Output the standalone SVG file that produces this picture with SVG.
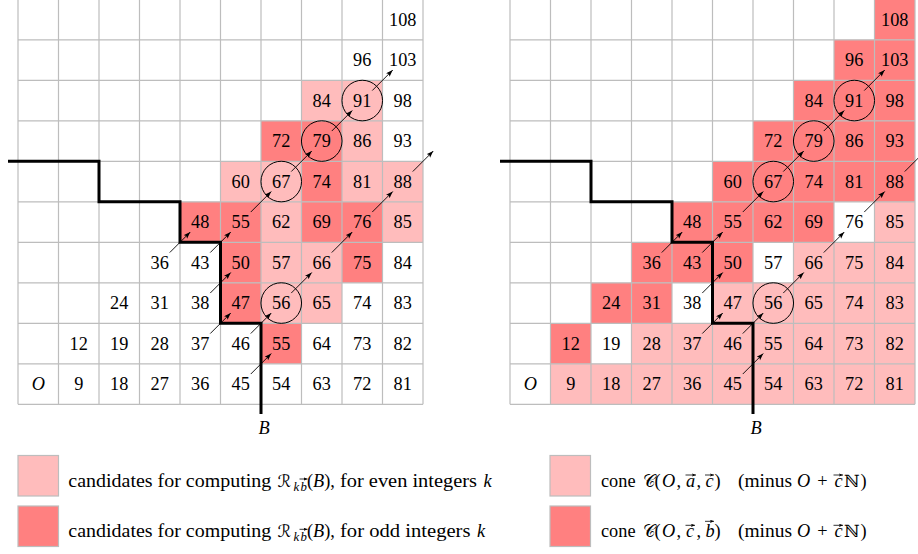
<svg xmlns="http://www.w3.org/2000/svg" width="918" height="554" viewBox="0 0 918 554">
<style>
text{font-family:'Liberation Serif',serif;font-size:18.3px;fill:#000}
.c text{text-anchor:middle}
.it{font-style:italic}
.sub{font-size:12.8px}
.scr{font-family:'DejaVu Serif','DejaVu Sans',serif;font-size:17px}
.l{fill:#ffbcbc}
.d{fill:#ff8080}
.sw{stroke:#bdbdbd;stroke-width:1.2}
.grid{fill:none;stroke:#bdbdbd;stroke-width:1.2}
.st{fill:none;stroke:#000;stroke-width:3;stroke-linejoin:miter;stroke-linecap:butt}
.ci{fill:none;stroke:#000;stroke-width:1}
.ar{stroke:#000;stroke-width:0.9;marker-end:url(#ah)}
.vec{stroke:#000;stroke-width:0.8;marker-end:url(#vh)}
</style>
<defs>
<marker id="ah" markerUnits="userSpaceOnUse" markerWidth="8" markerHeight="6" refX="7" refY="2.5" orient="auto"><path d="M0,0 L7,2.5 L0,5 L1.5,2.5 z" fill="#000"/></marker>
<marker id="vh" markerUnits="userSpaceOnUse" markerWidth="5" markerHeight="4" refX="4" refY="1.6" orient="auto"><path d="M0,0 L4,1.6 L0,3.2 L0.8,1.6 z" fill="#000"/></marker>
<path id="gridlines" d="M0,0V405M40.5,0V405M81,0V405M121.5,0V405M162,0V405M202.5,0V405M243,0V405M283.5,0V405M324,0V405M364.5,0V405M405,0V405M0,0H405M0,40.5H405M0,81H405M0,121.5H405M0,162H405M0,202.5H405M0,243H405M0,283.5H405M0,324H405M0,364.5H405M0,405H405"/>
<path id="stair" d="M-10,162H81V202.5H162V243H202.5V324H243V414.6"/>
</defs>

<!-- LEFT GRID -->
<g id="left-grid" transform="translate(18,-0.7)">
<g class="c">
<g id="L-c0r0" transform="translate(0,364.5)"><text class="it" x="20.25" y="26.25">O</text></g>
<g id="L-c1r0" transform="translate(40.5,364.5)"><text x="20.25" y="26.25">9</text></g>
<g id="L-c2r0" transform="translate(81,364.5)"><text x="20.25" y="26.25">18</text></g>
<g id="L-c3r0" transform="translate(121.5,364.5)"><text x="20.25" y="26.25">27</text></g>
<g id="L-c4r0" transform="translate(162,364.5)"><text x="20.25" y="26.25">36</text></g>
<g id="L-c5r0" transform="translate(202.5,364.5)"><text x="20.25" y="26.25">45</text></g>
<g id="L-c6r0" transform="translate(243,364.5)"><text x="20.25" y="26.25">54</text></g>
<g id="L-c7r0" transform="translate(283.5,364.5)"><text x="20.25" y="26.25">63</text></g>
<g id="L-c8r0" transform="translate(324,364.5)"><text x="20.25" y="26.25">72</text></g>
<g id="L-c9r0" transform="translate(364.5,364.5)"><text x="20.25" y="26.25">81</text></g>

<g id="L-c1r1" transform="translate(40.5,324)"><text x="20.25" y="26.25">12</text></g>
<g id="L-c2r1" transform="translate(81,324)"><text x="20.25" y="26.25">19</text></g>
<g id="L-c3r1" transform="translate(121.5,324)"><text x="20.25" y="26.25">28</text></g>
<g id="L-c4r1" transform="translate(162,324)"><text x="20.25" y="26.25">37</text></g>
<g id="L-c5r1" transform="translate(202.5,324)"><text x="20.25" y="26.25">46</text></g>
<g id="L-c6r1" transform="translate(243,324)"><rect class="d" width="40.5" height="40.5"/><text x="20.25" y="26.25">55</text></g>
<g id="L-c7r1" transform="translate(283.5,324)"><text x="20.25" y="26.25">64</text></g>
<g id="L-c8r1" transform="translate(324,324)"><text x="20.25" y="26.25">73</text></g>
<g id="L-c9r1" transform="translate(364.5,324)"><text x="20.25" y="26.25">82</text></g>

<g id="L-c2r2" transform="translate(81,283.5)"><text x="20.25" y="26.25">24</text></g>
<g id="L-c3r2" transform="translate(121.5,283.5)"><text x="20.25" y="26.25">31</text></g>
<g id="L-c4r2" transform="translate(162,283.5)"><text x="20.25" y="26.25">38</text></g>
<g id="L-c5r2" transform="translate(202.5,283.5)"><rect class="d" width="40.5" height="40.5"/><text x="20.25" y="26.25">47</text></g>
<g id="L-c6r2" transform="translate(243,283.5)"><rect class="l" width="40.5" height="40.5"/><text x="20.25" y="26.25">56</text></g>
<g id="L-c7r2" transform="translate(283.5,283.5)"><rect class="l" width="40.5" height="40.5"/><text x="20.25" y="26.25">65</text></g>
<g id="L-c8r2" transform="translate(324,283.5)"><text x="20.25" y="26.25">74</text></g>
<g id="L-c9r2" transform="translate(364.5,283.5)"><text x="20.25" y="26.25">83</text></g>

<g id="L-c3r3" transform="translate(121.5,243)"><text x="20.25" y="26.25">36</text></g>
<g id="L-c4r3" transform="translate(162,243)"><text x="20.25" y="26.25">43</text></g>
<g id="L-c5r3" transform="translate(202.5,243)"><rect class="d" width="40.5" height="40.5"/><text x="20.25" y="26.25">50</text></g>
<g id="L-c6r3" transform="translate(243,243)"><rect class="l" width="40.5" height="40.5"/><text x="20.25" y="26.25">57</text></g>
<g id="L-c7r3" transform="translate(283.5,243)"><rect class="l" width="40.5" height="40.5"/><text x="20.25" y="26.25">66</text></g>
<g id="L-c8r3" transform="translate(324,243)"><rect class="d" width="40.5" height="40.5"/><text x="20.25" y="26.25">75</text></g>
<g id="L-c9r3" transform="translate(364.5,243)"><text x="20.25" y="26.25">84</text></g>

<g id="L-c4r4" transform="translate(162,202.5)"><rect class="d" width="40.5" height="40.5"/><text x="20.25" y="26.25">48</text></g>
<g id="L-c5r4" transform="translate(202.5,202.5)"><rect class="d" width="40.5" height="40.5"/><text x="20.25" y="26.25">55</text></g>
<g id="L-c6r4" transform="translate(243,202.5)"><rect class="l" width="40.5" height="40.5"/><text x="20.25" y="26.25">62</text></g>
<g id="L-c7r4" transform="translate(283.5,202.5)"><rect class="d" width="40.5" height="40.5"/><text x="20.25" y="26.25">69</text></g>
<g id="L-c8r4" transform="translate(324,202.5)"><rect class="d" width="40.5" height="40.5"/><text x="20.25" y="26.25">76</text></g>
<g id="L-c9r4" transform="translate(364.5,202.5)"><rect class="l" width="40.5" height="40.5"/><text x="20.25" y="26.25">85</text></g>

<g id="L-c5r5" transform="translate(202.5,162)"><rect class="l" width="40.5" height="40.5"/><text x="20.25" y="26.25">60</text></g>
<g id="L-c6r5" transform="translate(243,162)"><rect class="l" width="40.5" height="40.5"/><text x="20.25" y="26.25">67</text></g>
<g id="L-c7r5" transform="translate(283.5,162)"><rect class="d" width="40.5" height="40.5"/><text x="20.25" y="26.25">74</text></g>
<g id="L-c8r5" transform="translate(324,162)"><rect class="l" width="40.5" height="40.5"/><text x="20.25" y="26.25">81</text></g>
<g id="L-c9r5" transform="translate(364.5,162)"><rect class="l" width="40.5" height="40.5"/><text x="20.25" y="26.25">88</text></g>

<g id="L-c6r6" transform="translate(243,121.5)"><rect class="d" width="40.5" height="40.5"/><text x="20.25" y="26.25">72</text></g>
<g id="L-c7r6" transform="translate(283.5,121.5)"><rect class="d" width="40.5" height="40.5"/><text x="20.25" y="26.25">79</text></g>
<g id="L-c8r6" transform="translate(324,121.5)"><rect class="l" width="40.5" height="40.5"/><text x="20.25" y="26.25">86</text></g>
<g id="L-c9r6" transform="translate(364.5,121.5)"><text x="20.25" y="26.25">93</text></g>

<g id="L-c7r7" transform="translate(283.5,81)"><rect class="l" width="40.5" height="40.5"/><text x="20.25" y="26.25">84</text></g>
<g id="L-c8r7" transform="translate(324,81)"><rect class="l" width="40.5" height="40.5"/><text x="20.25" y="26.25">91</text></g>
<g id="L-c9r7" transform="translate(364.5,81)"><text x="20.25" y="26.25">98</text></g>

<g id="L-c8r8" transform="translate(324,40.5)"><text x="20.25" y="26.25">96</text></g>
<g id="L-c9r8" transform="translate(364.5,40.5)"><text x="20.25" y="26.25">103</text></g>

<g id="L-c9r9" transform="translate(364.5,0)"><text x="20.25" y="26.25">108</text></g>
</g>
<use href="#gridlines" class="grid"/>
<use href="#stair" class="st"/>
<g id="L-circles">
<circle class="ci" cx="263.25" cy="303.75" r="20.3"/>
<circle class="ci" cx="263.25" cy="182.25" r="20.3"/>
<circle class="ci" cx="303.75" cy="141.75" r="20.3"/>
<circle class="ci" cx="344.25" cy="101.25" r="20.3"/>
</g>
<g id="L-connectors">
<line class="ar" x1="151.75" y1="253.25" x2="172.25" y2="232.75"/>
<line class="ar" x1="192.25" y1="253.25" x2="212.75" y2="232.75"/>
<line class="ar" x1="192.25" y1="293.75" x2="212.75" y2="273.25"/>
<line class="ar" x1="192.25" y1="334.25" x2="212.75" y2="313.75"/>
<line class="ar" x1="232.75" y1="334.25" x2="253.25" y2="313.75"/>
<line class="ar" x1="232.75" y1="374.75" x2="253.25" y2="354.25"/>
<line class="ar" x1="273.25" y1="293.75" x2="293.75" y2="273.25"/>
<line class="ar" x1="313.75" y1="253.25" x2="334.25" y2="232.75"/>
<line class="ar" x1="354.25" y1="212.75" x2="374.75" y2="192.25"/>
<line class="ar" x1="394.75" y1="172.25" x2="415.25" y2="151.75"/>
<line class="ar" x1="232.75" y1="212.75" x2="253.25" y2="192.25"/>
<line class="ar" x1="273.25" y1="172.25" x2="293.75" y2="151.75"/>
<line class="ar" x1="313.75" y1="131.75" x2="334.25" y2="111.25"/>
<line class="ar" x1="354.25" y1="91.25" x2="374.75" y2="70.75"/>
</g>
<g id="L-B"><text class="it" x="246" y="434.7" text-anchor="middle">B</text></g>
</g>

<!-- RIGHT GRID -->
<g id="right-grid" transform="translate(510,-0.7)">
<g class="c">
<g id="R-c0r0" transform="translate(0,364.5)"><text class="it" x="20.25" y="26.25">O</text></g>
<g id="R-c1r0" transform="translate(40.5,364.5)"><rect class="l" width="40.5" height="40.5"/><text x="20.25" y="26.25">9</text></g>
<g id="R-c2r0" transform="translate(81,364.5)"><rect class="l" width="40.5" height="40.5"/><text x="20.25" y="26.25">18</text></g>
<g id="R-c3r0" transform="translate(121.5,364.5)"><rect class="l" width="40.5" height="40.5"/><text x="20.25" y="26.25">27</text></g>
<g id="R-c4r0" transform="translate(162,364.5)"><rect class="l" width="40.5" height="40.5"/><text x="20.25" y="26.25">36</text></g>
<g id="R-c5r0" transform="translate(202.5,364.5)"><rect class="l" width="40.5" height="40.5"/><text x="20.25" y="26.25">45</text></g>
<g id="R-c6r0" transform="translate(243,364.5)"><rect class="l" width="40.5" height="40.5"/><text x="20.25" y="26.25">54</text></g>
<g id="R-c7r0" transform="translate(283.5,364.5)"><rect class="l" width="40.5" height="40.5"/><text x="20.25" y="26.25">63</text></g>
<g id="R-c8r0" transform="translate(324,364.5)"><rect class="l" width="40.5" height="40.5"/><text x="20.25" y="26.25">72</text></g>
<g id="R-c9r0" transform="translate(364.5,364.5)"><rect class="l" width="40.5" height="40.5"/><text x="20.25" y="26.25">81</text></g>

<g id="R-c1r1" transform="translate(40.5,324)"><rect class="d" width="40.5" height="40.5"/><text x="20.25" y="26.25">12</text></g>
<g id="R-c2r1" transform="translate(81,324)"><text x="20.25" y="26.25">19</text></g>
<g id="R-c3r1" transform="translate(121.5,324)"><rect class="l" width="40.5" height="40.5"/><text x="20.25" y="26.25">28</text></g>
<g id="R-c4r1" transform="translate(162,324)"><rect class="l" width="40.5" height="40.5"/><text x="20.25" y="26.25">37</text></g>
<g id="R-c5r1" transform="translate(202.5,324)"><rect class="l" width="40.5" height="40.5"/><text x="20.25" y="26.25">46</text></g>
<g id="R-c6r1" transform="translate(243,324)"><rect class="l" width="40.5" height="40.5"/><text x="20.25" y="26.25">55</text></g>
<g id="R-c7r1" transform="translate(283.5,324)"><rect class="l" width="40.5" height="40.5"/><text x="20.25" y="26.25">64</text></g>
<g id="R-c8r1" transform="translate(324,324)"><rect class="l" width="40.5" height="40.5"/><text x="20.25" y="26.25">73</text></g>
<g id="R-c9r1" transform="translate(364.5,324)"><rect class="l" width="40.5" height="40.5"/><text x="20.25" y="26.25">82</text></g>

<g id="R-c2r2" transform="translate(81,283.5)"><rect class="d" width="40.5" height="40.5"/><text x="20.25" y="26.25">24</text></g>
<g id="R-c3r2" transform="translate(121.5,283.5)"><rect class="d" width="40.5" height="40.5"/><text x="20.25" y="26.25">31</text></g>
<g id="R-c4r2" transform="translate(162,283.5)"><text x="20.25" y="26.25">38</text></g>
<g id="R-c5r2" transform="translate(202.5,283.5)"><rect class="l" width="40.5" height="40.5"/><text x="20.25" y="26.25">47</text></g>
<g id="R-c6r2" transform="translate(243,283.5)"><rect class="l" width="40.5" height="40.5"/><text x="20.25" y="26.25">56</text></g>
<g id="R-c7r2" transform="translate(283.5,283.5)"><rect class="l" width="40.5" height="40.5"/><text x="20.25" y="26.25">65</text></g>
<g id="R-c8r2" transform="translate(324,283.5)"><rect class="l" width="40.5" height="40.5"/><text x="20.25" y="26.25">74</text></g>
<g id="R-c9r2" transform="translate(364.5,283.5)"><rect class="l" width="40.5" height="40.5"/><text x="20.25" y="26.25">83</text></g>

<g id="R-c3r3" transform="translate(121.5,243)"><rect class="d" width="40.5" height="40.5"/><text x="20.25" y="26.25">36</text></g>
<g id="R-c4r3" transform="translate(162,243)"><rect class="d" width="40.5" height="40.5"/><text x="20.25" y="26.25">43</text></g>
<g id="R-c5r3" transform="translate(202.5,243)"><rect class="d" width="40.5" height="40.5"/><text x="20.25" y="26.25">50</text></g>
<g id="R-c6r3" transform="translate(243,243)"><text x="20.25" y="26.25">57</text></g>
<g id="R-c7r3" transform="translate(283.5,243)"><rect class="l" width="40.5" height="40.5"/><text x="20.25" y="26.25">66</text></g>
<g id="R-c8r3" transform="translate(324,243)"><rect class="l" width="40.5" height="40.5"/><text x="20.25" y="26.25">75</text></g>
<g id="R-c9r3" transform="translate(364.5,243)"><rect class="l" width="40.5" height="40.5"/><text x="20.25" y="26.25">84</text></g>

<g id="R-c4r4" transform="translate(162,202.5)"><rect class="d" width="40.5" height="40.5"/><text x="20.25" y="26.25">48</text></g>
<g id="R-c5r4" transform="translate(202.5,202.5)"><rect class="d" width="40.5" height="40.5"/><text x="20.25" y="26.25">55</text></g>
<g id="R-c6r4" transform="translate(243,202.5)"><rect class="d" width="40.5" height="40.5"/><text x="20.25" y="26.25">62</text></g>
<g id="R-c7r4" transform="translate(283.5,202.5)"><rect class="d" width="40.5" height="40.5"/><text x="20.25" y="26.25">69</text></g>
<g id="R-c8r4" transform="translate(324,202.5)"><text x="20.25" y="26.25">76</text></g>
<g id="R-c9r4" transform="translate(364.5,202.5)"><rect class="l" width="40.5" height="40.5"/><text x="20.25" y="26.25">85</text></g>

<g id="R-c5r5" transform="translate(202.5,162)"><rect class="d" width="40.5" height="40.5"/><text x="20.25" y="26.25">60</text></g>
<g id="R-c6r5" transform="translate(243,162)"><rect class="d" width="40.5" height="40.5"/><text x="20.25" y="26.25">67</text></g>
<g id="R-c7r5" transform="translate(283.5,162)"><rect class="d" width="40.5" height="40.5"/><text x="20.25" y="26.25">74</text></g>
<g id="R-c8r5" transform="translate(324,162)"><rect class="d" width="40.5" height="40.5"/><text x="20.25" y="26.25">81</text></g>
<g id="R-c9r5" transform="translate(364.5,162)"><rect class="d" width="40.5" height="40.5"/><text x="20.25" y="26.25">88</text></g>

<g id="R-c6r6" transform="translate(243,121.5)"><rect class="d" width="40.5" height="40.5"/><text x="20.25" y="26.25">72</text></g>
<g id="R-c7r6" transform="translate(283.5,121.5)"><rect class="d" width="40.5" height="40.5"/><text x="20.25" y="26.25">79</text></g>
<g id="R-c8r6" transform="translate(324,121.5)"><rect class="d" width="40.5" height="40.5"/><text x="20.25" y="26.25">86</text></g>
<g id="R-c9r6" transform="translate(364.5,121.5)"><rect class="d" width="40.5" height="40.5"/><text x="20.25" y="26.25">93</text></g>

<g id="R-c7r7" transform="translate(283.5,81)"><rect class="d" width="40.5" height="40.5"/><text x="20.25" y="26.25">84</text></g>
<g id="R-c8r7" transform="translate(324,81)"><rect class="d" width="40.5" height="40.5"/><text x="20.25" y="26.25">91</text></g>
<g id="R-c9r7" transform="translate(364.5,81)"><rect class="d" width="40.5" height="40.5"/><text x="20.25" y="26.25">98</text></g>

<g id="R-c8r8" transform="translate(324,40.5)"><rect class="d" width="40.5" height="40.5"/><text x="20.25" y="26.25">96</text></g>
<g id="R-c9r8" transform="translate(364.5,40.5)"><rect class="d" width="40.5" height="40.5"/><text x="20.25" y="26.25">103</text></g>

<g id="R-c9r9" transform="translate(364.5,0)"><rect class="d" width="40.5" height="40.5"/><text x="20.25" y="26.25">108</text></g>
</g>
<use href="#gridlines" class="grid"/>
<use href="#stair" class="st"/>
<g id="R-circles">
<circle class="ci" cx="263.25" cy="303.75" r="20.3"/>
<circle class="ci" cx="263.25" cy="182.25" r="20.3"/>
<circle class="ci" cx="303.75" cy="141.75" r="20.3"/>
<circle class="ci" cx="344.25" cy="101.25" r="20.3"/>
</g>
<g id="R-connectors">
<line class="ar" x1="151.75" y1="253.25" x2="172.25" y2="232.75"/>
<line class="ar" x1="192.25" y1="253.25" x2="212.75" y2="232.75"/>
<line class="ar" x1="192.25" y1="293.75" x2="212.75" y2="273.25"/>
<line class="ar" x1="192.25" y1="334.25" x2="212.75" y2="313.75"/>
<line class="ar" x1="232.75" y1="334.25" x2="253.25" y2="313.75"/>
<line class="ar" x1="232.75" y1="374.75" x2="253.25" y2="354.25"/>
<line class="ar" x1="273.25" y1="293.75" x2="293.75" y2="273.25"/>
<line class="ar" x1="313.75" y1="253.25" x2="334.25" y2="232.75"/>
<line class="ar" x1="354.25" y1="212.75" x2="374.75" y2="192.25"/>
<line class="ar" x1="394.75" y1="172.25" x2="415.25" y2="151.75"/>
<line class="ar" x1="232.75" y1="212.75" x2="253.25" y2="192.25"/>
<line class="ar" x1="273.25" y1="172.25" x2="293.75" y2="151.75"/>
<line class="ar" x1="313.75" y1="131.75" x2="334.25" y2="111.25"/>
<line class="ar" x1="354.25" y1="91.25" x2="374.75" y2="70.75"/>
</g>
<g id="R-B"><text class="it" x="246" y="434.7" text-anchor="middle">B</text></g>
</g>

<!-- LEFT LEGEND -->
<g id="legend-even">
<rect class="l sw" x="18" y="455.5" width="40.5" height="40.5"/>
<text x="68.3" y="486.5" textLength="203" lengthAdjust="spacingAndGlyphs">candidates for computing</text>
<text class="scr" x="277.4" y="486.5">ℛ</text>
<text class="it sub" x="293.5" y="490.5">k</text>
<text class="it sub" x="300.5" y="490.5">b</text>
<line class="vec" x1="299.5" y1="479" x2="307.5" y2="479"/>
<text x="307" y="486.5">(<tspan class="it">B</tspan>),</text>
<text x="340" y="486.5" textLength="137" lengthAdjust="spacingAndGlyphs">for even integers</text>
<text class="it" x="483.5" y="486.5">k</text>
</g>
<g id="legend-odd">
<rect class="d sw" x="18" y="506" width="40.5" height="40.5"/>
<text x="68.3" y="536.8" textLength="203" lengthAdjust="spacingAndGlyphs">candidates for computing</text>
<text class="scr" x="277.4" y="536.8">ℛ</text>
<text class="it sub" x="293.5" y="540.8">k</text>
<text class="it sub" x="300.5" y="540.8">b</text>
<line class="vec" x1="299.5" y1="529.3" x2="307.5" y2="529.3"/>
<text x="307" y="536.8">(<tspan class="it">B</tspan>),</text>
<text x="340" y="536.8" textLength="130.5" lengthAdjust="spacingAndGlyphs">for odd integers</text>
<text class="it" x="477" y="536.8">k</text>
</g>

<!-- RIGHT LEGEND -->
<g id="legend-cone-ac">
<rect class="l sw" x="550" y="455.5" width="40.5" height="40.5"/>
<text x="601" y="486.5">cone</text>
<text class="scr" x="643" y="486.5">𝒞</text>
<text x="654.5" y="486.5">(</text>
<text class="it" x="662" y="486.5">O</text>
<text x="676.5" y="486.5">,</text>
<text class="it" x="686" y="486.5">a</text>
<line class="vec" x1="685.5" y1="475" x2="696" y2="475"/>
<text x="696.5" y="486.5">,</text>
<text class="it" x="705.5" y="486.5">c</text>
<line class="vec" x1="705" y1="475" x2="714" y2="475"/>
<text x="714.5" y="486.5">)</text>
<text x="738" y="486.5" textLength="54" lengthAdjust="spacingAndGlyphs">(minus</text>
<text class="it" x="797" y="486.5">O</text>
<text x="822.5" y="486.5" text-anchor="middle">+</text>
<text class="it" x="834.5" y="486.5">c</text>
<line class="vec" x1="833.5" y1="475" x2="843" y2="475"/>
<text class="scr" x="844" y="486.5">ℕ</text>
<text x="860.5" y="486.5">)</text>
</g>
<g id="legend-cone-cb">
<rect class="d sw" x="550" y="506" width="40.5" height="40.5"/>
<text x="601" y="536.8">cone</text>
<text class="scr" x="643" y="536.8">𝒞</text>
<text x="654.5" y="536.8">(</text>
<text class="it" x="662" y="536.8">O</text>
<text x="676.5" y="536.8">,</text>
<text class="it" x="686" y="536.8">c</text>
<line class="vec" x1="685.5" y1="525.3" x2="695" y2="525.3"/>
<text x="696.5" y="536.8">,</text>
<text class="it" x="705.5" y="536.8">b</text>
<line class="vec" x1="705" y1="521.3" x2="714" y2="521.3"/>
<text x="714.5" y="536.8">)</text>
<text x="738" y="536.8" textLength="54" lengthAdjust="spacingAndGlyphs">(minus</text>
<text class="it" x="797" y="536.8">O</text>
<text x="822.5" y="536.8" text-anchor="middle">+</text>
<text class="it" x="834.5" y="536.8">c</text>
<line class="vec" x1="833.5" y1="525.3" x2="843" y2="525.3"/>
<text class="scr" x="844" y="536.8">ℕ</text>
<text x="860.5" y="536.8">)</text>
</g>
</svg>
